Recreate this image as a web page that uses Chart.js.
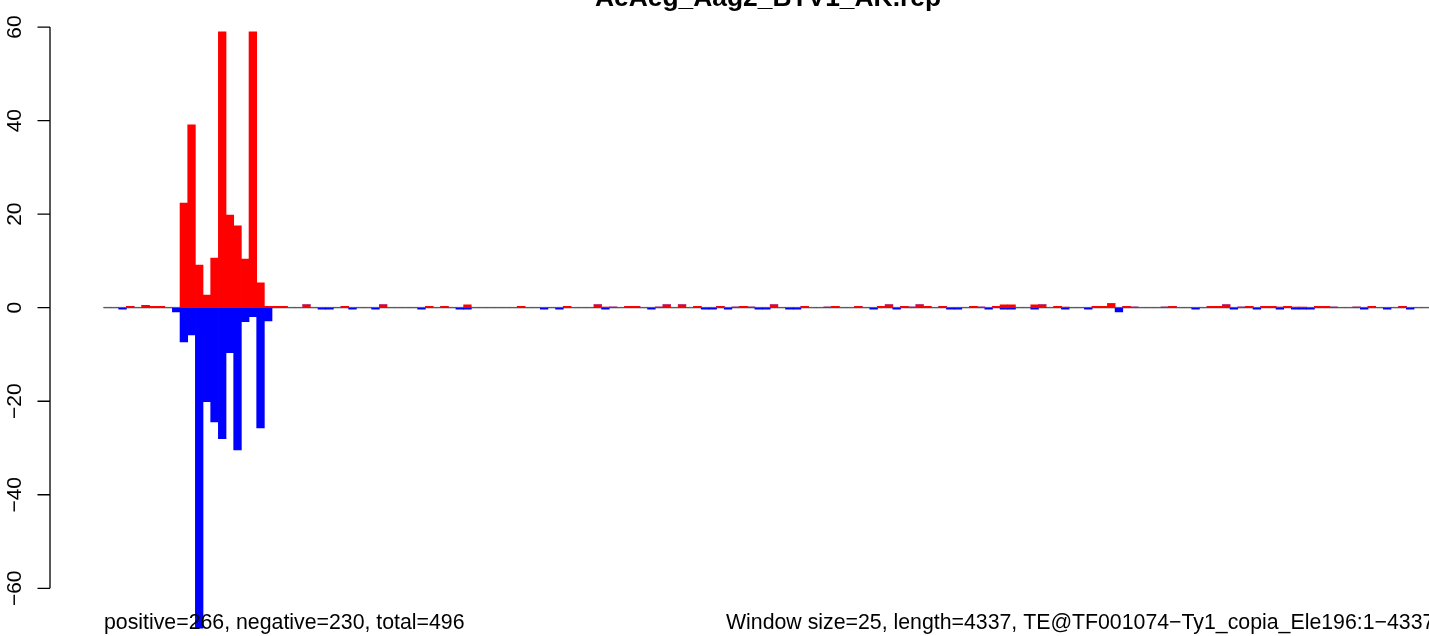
<html>
<head>
<meta charset="UTF-8">
<title>AeAeg_Aag2_BTV1_AK.rep</title>
<script src="https://cdn.jsdelivr.net/npm/chart.js@4.4.1/dist/chart.umd.min.js"></script>
<style>
  body { margin: 0; overflow: hidden; background: #fff; }
  #plot { position: absolute; left: 0; top: 0; }
</style>
</head>
<body>
<canvas id="plot" width="1437" height="636"></canvas>

<script>
    // values per 25bp window (174 windows over 4337bp)
    var windowSize = 25;
    var teLength = 4337;

    var positive = [
        0,0,0,0.3,0,0.5,0.3,0.3,0,0,
        22.4,39.1,9.1,2.7,10.6,59,19.8,17.5,10.4,59,
        5.3,0.3,0.3,0.3,0,0,0.6,0,0,0,
        0,0.3,0,0,0,0,0.6,0,0,0,
        0,0,0.3,0,0.3,0,0,0.6,0,0,
        0,0,0,0,0.3,0,0,0,0,0,
        0.3,0,0,0,0.6,0.15,0.15,0,0.3,0.3,
        0,0,0.15,0.6,0,0.6,0,0.3,0,0,
        0.3,0,0.15,0.3,0.15,0,0,0.6,0,0,
        0,0.3,0,0,0.15,0.3,0,0,0.3,0,
        0,0.3,0.6,0,0.3,0.15,0.6,0.3,0,0.3,
        0,0,0,0.3,0.15,0,0.3,0.6,0.6,0,
        0,0.6,0.6,0,0.3,0.15,0,0,0,0.3,
        0.3,0.9,0,0.3,0.15,0,0,0,0.15,0.3,
        0,0,0,0,0.3,0.3,0.6,0,0.15,0.3,
        0,0.3,0.3,0.15,0.3,0.15,0.15,0,0.3,0.3,
        0.15,0,0,0.15,0,0.3,0,0,0,0.3,
        0,0,0,0
    ];

    var negative = [
        0,0,-0.3,0,0,0,0,0,0,-0.9,
        -7.3,-5.8,-68.5,-20.1,-24.4,-28,-9.6,-30.4,-3,-1.9,
        -25.7,-2.8,0,0,0,0,0,0,-0.3,-0.3,
        0,0,-0.3,0,0,-0.3,0,0,0,0,
        0,-0.3,0,0,0,0,-0.3,-0.3,0,0,
        0,0,0,0,0,0,0,-0.3,0,-0.3,
        0,0,0,0,0,-0.3,0,0,0,0,
        0,-0.3,0,0,0,0,0,0,-0.3,-0.3,
        0,-0.3,0,0,0,-0.3,-0.3,0,0,-0.3,
        -0.3,0,0,0,0,0,0,0,0,0,
        -0.3,0,0,-0.3,0,0,0,0,0,0,
        -0.3,-0.3,0,0,0,-0.3,0,-0.3,-0.3,0,
        0,-0.3,0,0,0,-0.3,0,0,-0.3,0,
        0,0,-0.9,0,0,0,0,0,0,0,
        0,0,-0.3,0,0,0,0,-0.3,0,0,
        -0.3,0,0,-0.3,0,-0.3,-0.3,-0.3,0,0,
        0,0,0,0,-0.3,0,0,-0.3,0,0,
        -0.3,0,0,0
    ];

    var yTicks = [-60, -40, -20, 0, 20, 40, 60];

    var titleText = "AeAeg_Aag2_BTV1_AK.rep";
    var countText = "positive=266, negative=230, total=496";
    var infoText = "Window size=25, length=4337, TE@TF001074\u2212Ty1_copia_Ele196:1\u22124337";

    // window start positions as categories
    var windows = [];
    for (var i = 0; i < positive.length; i++) {
        windows.push(i * windowSize + 1);
    }

    function minusSign(v) {
        return v < 0 ? "\u2212" + Math.abs(v) : String(v);
    }

    var rPlot = {
        id: 'rPlot',
        beforeDatasetsDraw: function (chart) {
            var ctx = chart.ctx;
            var y0 = chart.scales.y.getPixelForValue(0);
            ctx.save();
            ctx.strokeStyle = '#bebebe';
            ctx.lineWidth = 2;
            ctx.beginPath();
            ctx.moveTo(chart.chartArea.left, y0);
            ctx.lineTo(chart.chartArea.right, y0);
            ctx.stroke();
            ctx.restore();
        },
        afterDraw: function (chart) {
            var ctx = chart.ctx;
            var ys = chart.scales.y;
            var axisX = 50;
            ctx.save();
            // y axis
            ctx.strokeStyle = '#000';
            ctx.lineWidth = 1.3;
            ctx.beginPath();
            ctx.moveTo(axisX, ys.getPixelForValue(yTicks[0]));
            ctx.lineTo(axisX, ys.getPixelForValue(yTicks[yTicks.length - 1]));
            yTicks.forEach(function (t) {
                var py = ys.getPixelForValue(t);
                ctx.moveTo(axisX, py);
                ctx.lineTo(axisX - 12.5, py);
            });
            ctx.stroke();

            ctx.fillStyle = '#000';
            ctx.font = '21px "Liberation Sans", Arial, sans-serif';
            ctx.textAlign = 'center';
            ctx.textBaseline = 'alphabetic';
            yTicks.forEach(function (t) {
                var py = ys.getPixelForValue(t);
                ctx.save();
                ctx.translate(21, py);
                ctx.rotate(-Math.PI / 2);
                ctx.fillText(minusSign(t), 0, 0);
                ctx.restore();
            });

            // title (cut at top of picture)
            ctx.font = 'bold 26.4px "Liberation Sans", Arial, sans-serif';
            ctx.textAlign = 'center';
            ctx.fillText(titleText, 768, 6);

            // bottom notes
            ctx.font = '21.3px "Liberation Sans", Arial, sans-serif';
            ctx.textAlign = 'left';
            ctx.fillText(countText, 104, 629);
            ctx.fillText(infoText, 726, 629);
            ctx.restore();
        }
    };

    var ctx = document.getElementById("plot");
    var myChart = new Chart(ctx, {
        type: 'bar',
        data: {
            labels: windows,
            datasets: [
                {label: 'positive', data: positive, backgroundColor: '#ff0000', borderWidth: 0},
                {label: 'negative', data: negative, backgroundColor: '#0000ff', borderWidth: 0}
            ]
        },
        options: {
            responsive: false,
            animation: false,
            events: [],
            layout: {
                padding: {left: 103.4, right: 0, top: 0, bottom: 0}
            },
            datasets: {
                bar: {barPercentage: 1, categoryPercentage: 1}
            },
            plugins: {
                legend: {display: false},
                title: {display: false},
                tooltip: {enabled: false}
            },
            scales: {
                x: {display: false, stacked: true},
                y: {display: false, stacked: true, min: -70.2, max: 65.8}
            }
        },
        plugins: [rPlot]
    });
</script>
</body>
</html>
